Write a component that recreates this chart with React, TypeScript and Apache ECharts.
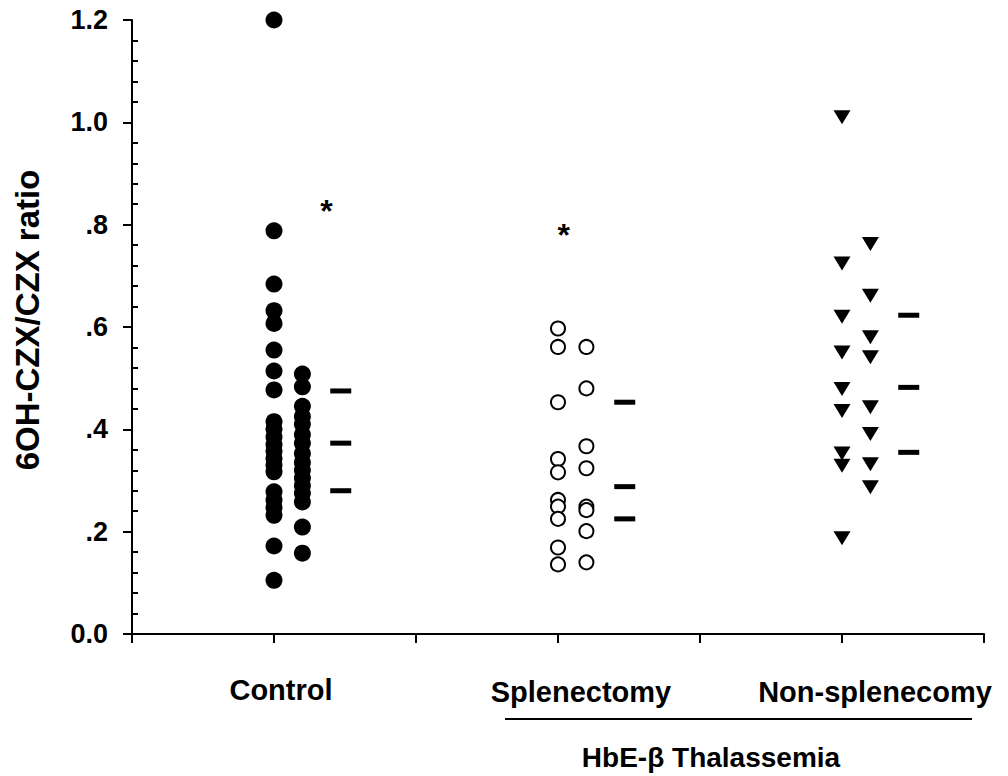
import React, { useEffect, useRef } from "react";
import * as echarts from "echarts";

// x positions (value axis 0..6, groups at 1, 3, 5)
const controlX = [1, 1.2];
const splenX = [3, 3.2];
const nonSplenX = [5, 5.2];
const meanOffset = 0.47;

const controlA = [1.2, 0.788, 0.684, 0.632, 0.607, 0.555, 0.514, 0.477, 0.415, 0.4, 0.385, 0.37, 0.357, 0.343, 0.33, 0.317, 0.278, 0.262, 0.247, 0.232, 0.172, 0.105];
const controlB = [0.508, 0.483, 0.445, 0.425, 0.41, 0.39, 0.373, 0.353, 0.335, 0.32, 0.305, 0.29, 0.275, 0.258, 0.209, 0.158];
const splenA = [0.597, 0.561, 0.453, 0.342, 0.316, 0.262, 0.249, 0.225, 0.169, 0.136];
const splenB = [0.561, 0.48, 0.367, 0.324, 0.249, 0.242, 0.201, 0.14];
const nonSplenA = [1.01, 0.724, 0.62, 0.55, 0.479, 0.436, 0.353, 0.329, 0.187];
const nonSplenB = [0.762, 0.661, 0.58, 0.541, 0.443, 0.391, 0.332, 0.287];

const controlMeans = [0.475, 0.373, 0.28];
const splenMeans = [0.453, 0.288, 0.225];
const nonSplenMeans = [0.623, 0.482, 0.355];

const asterisks = [
  [1.37, 0.842],
  [3.04, 0.796],
];

const yTicks = [0, 0.2, 0.4, 0.6, 0.8, 1.0, 1.2];
const yTitle = "6OH-CZX/CZX ratio";
const groupLabels = ["Control", "Splenectomy", "Non-splenecomy"];
const superLabel = "HbE-\u03B2 Thalassemia";

const FONT = "'Liberation Sans', Arial, sans-serif";

function col(x: number, ys: number[]) {
  return ys.map((y) => [x, y]);
}

export default function App() {
  const ref = useRef<HTMLDivElement>(null);
  useEffect(() => {
    if (!ref.current) return;
    const chart = echarts.init(ref.current, null, { renderer: "svg" });
    const filled = { color: "#000", opacity: 1 };
    const hollow = { color: "#fff", borderColor: "#000", borderWidth: 2, opacity: 1 };
    const meanStyle = {
      type: "scatter",
      symbol: "rect",
      symbolSize: [21, 5],
      itemStyle: { color: "#000", opacity: 1 },
    };
    chart.setOption({
      animation: false,
      backgroundColor: "#fff",
      grid: { left: 132, right: 24, top: 20, bottom: 142, containLabel: false },
      xAxis: {
        type: "value",
        min: 0,
        max: 6,
        interval: 1,
        axisLine: { show: true, onZero: false, lineStyle: { color: "#000", width: 2 } },
        axisTick: { show: true, length: 9, lineStyle: { color: "#000", width: 2 } },
        axisLabel: { show: false },
        splitLine: { show: false },
      },
      yAxis: [
        {
          type: "value",
          min: yTicks[0],
          max: yTicks[yTicks.length - 1],
          interval: 0.2,
          position: "left",
          axisLine: { show: true, onZero: false, lineStyle: { color: "#000", width: 2 } },
          axisTick: { show: true, length: 9, lineStyle: { color: "#000", width: 2 } },
          axisLabel: {
            show: true,
            margin: 24,
            fontFamily: FONT,
            fontWeight: "bold",
            fontSize: 27,
            color: "#000",
            formatter: (v: number) => {
              const s = v.toFixed(1);
              return v > 0 && v < 1 ? s.replace(/^0/, "") : s;
            },
          },
          splitLine: { show: false },
        },
        {
          type: "value",
          min: yTicks[0],
          max: yTicks[yTicks.length - 1],
          interval: 0.2,
          position: "left",
          offset: 0,
          axisLine: { show: false },
          axisTick: { show: false, inside: true },
          axisLabel: { show: false },
          minorTick: { show: true, splitNumber: 5, length: 6, lineStyle: { color: "#000", width: 2 } },
          splitLine: { show: false },
          minorSplitLine: { show: false },
        },
      ],
      series: [
        { type: "scatter", symbol: "circle", symbolSize: 17, itemStyle: filled, data: col(controlX[0], controlA) },
        { type: "scatter", symbol: "circle", symbolSize: 17, itemStyle: filled, data: col(controlX[1], controlB) },
        { ...meanStyle, data: controlMeans.map((y) => [controlX[0] + meanOffset, y]) },
        { type: "scatter", symbol: "circle", symbolSize: 14, itemStyle: hollow, data: col(splenX[0], splenA) },
        { type: "scatter", symbol: "circle", symbolSize: 14, itemStyle: hollow, data: col(splenX[1], splenB) },
        { ...meanStyle, data: splenMeans.map((y) => [splenX[0] + meanOffset, y]) },
        { type: "scatter", symbol: "triangle", symbolRotate: 180, symbolSize: [17, 14], itemStyle: filled, data: col(nonSplenX[0], nonSplenA) },
        { type: "scatter", symbol: "triangle", symbolRotate: 180, symbolSize: [17, 14], itemStyle: filled, data: col(nonSplenX[1], nonSplenB) },
        { ...meanStyle, data: nonSplenMeans.map((y) => [nonSplenX[0] + meanOffset, y]) },
        {
          type: "scatter",
          symbol: "circle",
          symbolSize: 1,
          itemStyle: { color: "rgba(0,0,0,0)" },
          label: {
            show: true,
            position: "inside",
            formatter: "*",
            fontFamily: FONT,
            fontWeight: "bold",
            fontSize: 32,
            color: "#000",
            opacity: 1,
            offset: [0, 8],
          },
          data: asterisks,
        },
      ],
      graphic: [
        {
          type: "text",
          x: 44,
          y: 320,
          rotation: Math.PI / 2,
          style: { text: yTitle, font: `bold 33px ${FONT}`, fill: "#000", align: "center", verticalAlign: "bottom" },
        },
        {
          type: "text",
          x: 281,
          y: 690,
          style: { text: groupLabels[0], font: `bold 29px ${FONT}`, fill: "#000", align: "center", verticalAlign: "middle" },
        },
        {
          type: "text",
          x: 581,
          y: 692,
          style: { text: groupLabels[1], font: `bold 29px ${FONT}`, fill: "#000", align: "center", verticalAlign: "middle" },
        },
        {
          type: "text",
          x: 875,
          y: 692,
          style: { text: groupLabels[2], font: `bold 29px ${FONT}`, fill: "#000", align: "center", verticalAlign: "middle" },
        },
        {
          type: "line",
          shape: { x1: 505, y1: 719, x2: 972, y2: 719 },
          style: { stroke: "#000", lineWidth: 2 },
        },
        {
          type: "text",
          x: 711,
          y: 757,
          style: { text: superLabel, font: `bold 28px ${FONT}`, fill: "#000", align: "center", verticalAlign: "middle" },
        },
      ],
    });
    return () => chart.dispose();
  }, []);
  return (
    <div
      ref={ref}
      style={{ position: "absolute", left: 0, top: 0, width: 1008, height: 776, background: "#fff" }}
    />
  );
}
